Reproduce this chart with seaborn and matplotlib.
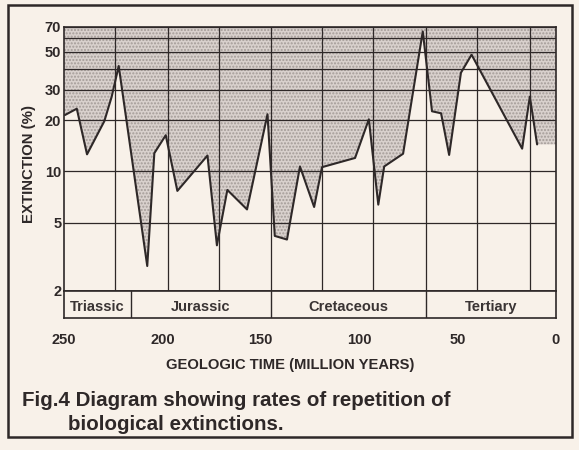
import matplotlib
matplotlib.use('Agg')
import matplotlib.pyplot as plt
import seaborn as sns
import pandas as pd
from matplotlib.patches import Rectangle

# Extinction record (age in Myr, extinction in %)
ages = [249.5, 243.5, 238.3, 229.5, 225.8, 222.2, 207.7, 204.1, 198.3, 192.4,
        177.1, 172.3, 167.0, 157.0, 146.6, 142.9, 136.7, 130.1, 122.9, 118.9,
        102.1, 95.1, 90.3, 87.3, 77.7, 67.7, 63.0, 58.4, 54.3, 48.3,
        42.9, 17.2, 13.3, 9.6]
extinction = [21.4, 23.3, 12.6, 19.7, 27.3, 41.4, 2.8, 12.8, 16.3, 7.7,
              12.4, 3.7, 7.8, 6.0, 21.6, 4.2, 4.0, 10.7, 6.2, 10.6,
              12.0, 20.2, 6.4, 10.7, 12.7, 65.9, 22.5, 21.9, 12.5, 37.8,
              48.2, 13.6, 27.4, 14.4]

# 26 Myr periodicity lines
cycle_ages = [224, 197, 171, 145, 119, 93, 66, 40, 13]
period_names = ['Triassic', 'Jurassic', 'Cretaceous', 'Tertiary']
period_bounds = [250, 216, 145, 66, 0]
y_ticks = [2, 5, 10, 20, 30, 50, 70]
y_grid = [2, 5, 10, 20, 30, 40, 50, 60, 70]
x_ticks = [250, 200, 150, 100, 50, 0]

df = pd.DataFrame({'age': ages, 'extinction': extinction})

sns.set_style('white')
plt.rcParams['font.family'] = ['Liberation Sans', 'DejaVu Sans']
ink = '#2e2828'
paper = '#f8f1e9'

fig = plt.figure(figsize=(5.79, 4.5), dpi=100, facecolor=paper)
ax = fig.add_axes([64 / 579, 1 - 291 / 450, 492 / 579, 264 / 450])
band = fig.add_axes([64 / 579, 1 - 318 / 450, 492 / 579, 27 / 450], sharex=ax)
ax.set_facecolor(paper)
band.set_facecolor(paper)

ax.set_yscale('log')
ax.set_xlim(250, 0)
ax.set_ylim(2, 70)

# stippled area above the curve
fill_x = [250] + ages + [0]
fill_y = [extinction[0]] + extinction + [extinction[-1]]
ax.fill_between(fill_x, fill_y, 70, facecolor='#d9d1cd', hatch='.....',
                edgecolor='#a39b97', linewidth=0, zorder=1)

for v in y_grid:
    ax.axhline(v, color=ink, lw=0.9, zorder=2)
for a in cycle_ages:
    ax.axvline(a, color=ink, lw=0.9, zorder=2)

sns.lineplot(data=df, x='age', y='extinction', ax=ax, color=ink, lw=1.5,
             sort=False, zorder=3)

ax.set_yticks(y_ticks)
ax.set_yticklabels([str(v) for v in y_ticks], fontsize=10.5, fontweight='bold', color=ink)
ax.minorticks_off()
ax.tick_params(axis='y', length=0, pad=2)
ax.tick_params(axis='x', bottom=False, labelbottom=False)
ax.set_xlabel('')
ax.set_ylabel('')
for s in ax.spines.values():
    s.set_color(ink)
    s.set_linewidth(1.2)

# geologic period band
band.set_ylim(0, 1)
band.set_yticks([])
for b in period_bounds[1:-1]:
    band.axvline(b, color=ink, lw=1.0)
for name, a0, a1 in zip(period_names, period_bounds[:-1], period_bounds[1:]):
    band.text((a0 + a1) / 2, 0.42, name, ha='center', va='center',
              fontsize=10.5, fontweight='bold', color='#3a3434')
for s in band.spines.values():
    s.set_color(ink)
    s.set_linewidth(1.2)
band.set_xticks(x_ticks)
band.set_xticklabels([str(v) for v in x_ticks], fontsize=10.5, fontweight='bold', color=ink)
band.tick_params(axis='x', direction='out', length=7, width=1.0, color=ink, pad=4)
ticks = band.xaxis.get_major_ticks()
ticks[0].tick1line.set_visible(False)
ticks[-1].tick1line.set_visible(False)

fig.text(29 / 579, 1 - 164 / 450, 'EXTINCTION (%)', rotation=90, ha='center', va='center',
         fontsize=10.8, fontweight='bold', color=ink)
fig.text(290 / 579, 1 - 365 / 450, 'GEOLOGIC TIME (MILLION YEARS)', ha='center', va='center',
         fontsize=10.6, fontweight='bold', color=ink)
fig.text(22 / 579, 1 - 401 / 450, 'Fig.4 Diagram showing rates of repetition of',
         ha='left', va='center', fontsize=14.8, fontweight='bold', color=ink)
fig.text(68 / 579, 1 - 424 / 450, 'biological extinctions.',
         ha='left', va='center', fontsize=14.8, fontweight='bold', color=ink)

# outer frame of the figure box
fig.patches.append(Rectangle((8 / 579, 1 - 437 / 450), 564 / 579, 432 / 450,
                             transform=fig.transFigure, fill=False,
                             edgecolor=ink, lw=1.8))

fig.savefig('out.png', dpi=100, facecolor=paper)
